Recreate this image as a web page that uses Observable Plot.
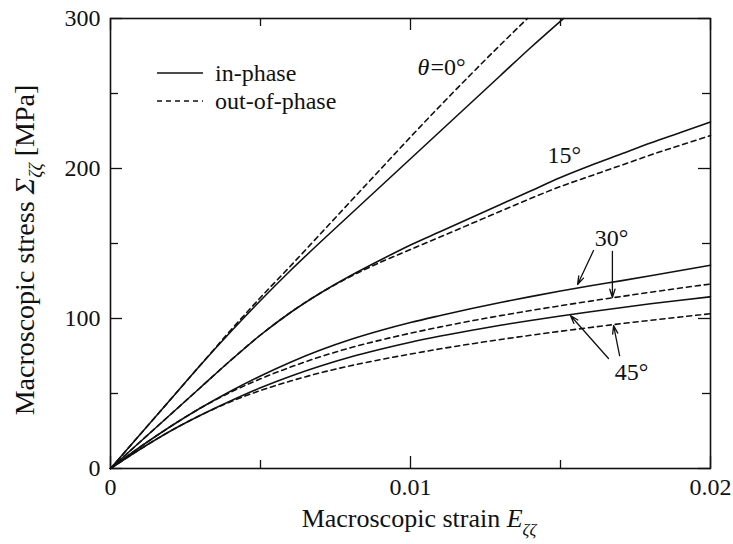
<!DOCTYPE html>
<html><head><meta charset="utf-8">
<script src="https://cdn.jsdelivr.net/npm/d3@7"></script>
<script src="https://cdn.jsdelivr.net/npm/@observablehq/plot@0.6"></script>
<style>body{margin:0;background:#fff} svg text{font-family:"Liberation Serif","DejaVu Serif",serif !important;}</style>
</head><body><div id="chart"></div>
<script>
// ---- data ----
const strain = [0,0.001,0.002,0.003,0.004,0.005,0.006,0.007,0.008,0.009,0.010,0.011,0.012,0.013,0.014,0.015,0.016,0.017,0.018,0.019,0.020];
const strain0In  = [0,0.001,0.002,0.003,0.004,0.005,0.006,0.007,0.008,0.009,0.010,0.011,0.012,0.013,0.014,0.0151];
const stress0In  = [0,23,46,69,91,112,132,151,169.5,188,206.5,225,243.5,262,280.5,300];
const strain0Out = [0,0.001,0.002,0.003,0.004,0.005,0.006,0.007,0.008,0.009,0.010,0.011,0.012,0.013,0.0139];
const stress0Out = [0,23,46,69,92,114,135,156.5,178,199.5,221,242,262.5,282.5,300];
const stress15In  = [0,18,36,54,72,89,104,117,128.5,139,149,158,167,176,185,194,202,209.5,217,224,231];
const stress15Out = [0,18,36,54,72,89,104,117,128,137.5,146,154.5,163,171.5,180,188,195,202,209,215.5,222];
const stress30In  = [0,14.5,28,40.3,51.5,61.7,70.9,79,86,92,97.3,102,106.5,110.7,114.6,118.3,121.8,125.1,128.5,132,135.5];
const stress30Out = [0,14.5,28,40.3,50.8,59.8,67.6,74.5,80.5,85.6,90.2,94.4,98.3,101.9,105.3,108.5,111.6,114.6,117.5,120.3,123];
const stress45In  = [0,13,25,35.5,45,53.8,61.5,68.3,74.3,79.5,84.2,88.3,92,95.5,98.7,101.7,104.5,107.2,109.8,112.2,114.5];
const stress45Out = [0,13,25,35.5,44.5,52,58.3,63.8,68.5,72.6,76.3,79.8,83,86,88.8,91.5,94,96.5,98.8,101,103.2];

const xTicks = [0, 0.01, 0.02];
const xMinor = [0.005, 0.015];
const yTicks = [0, 100, 200, 300];
const yMinor = [50, 150, 250];

const angleLabels = ["15°", "30°", "45°"];
const angleLabelX = [0.01513, 0.0167, 0.01737];
const angleLabelY = [208.5, 153.3, 64];

// arrows (label -> curve), data units
const arrowFromX = [0.0161, 0.01673, 0.0166, 0.01697];
const arrowFromY = [145.3, 144.7, 73.3, 75.3];
const arrowToX   = [0.01557, 0.01673, 0.01533, 0.01677];
const arrowToY   = [122.7, 114, 102, 95.3];

// ---- build tidy tables ----
const inPhase = [], outPhase = [];
function add(arr, xs, ys, key){ xs.forEach((x,i)=>arr.push({x, y: ys[i], key})); }
add(inPhase, strain0In, stress0In, "0");
add(outPhase, strain0Out, stress0Out, "0");
add(inPhase, strain, stress15In, "15");
add(outPhase, strain, stress15Out, "15");
add(inPhase, strain, stress30In, "30");
add(outPhase, strain, stress30Out, "30");
add(inPhase, strain, stress45In, "45");
add(outPhase, strain, stress45Out, "45");
const labels = angleLabels.map((t,i)=>({t, x: angleLabelX[i], y: angleLabelY[i]}));
const arrows = arrowFromX.map((_,i)=>({x1: arrowFromX[i], y1: arrowFromY[i], x2: arrowToX[i], y2: arrowToY[i]}));

const W = 733, H = 544, mL = 110, mR = 23, mT = 18, mB = 76;
const iW = W - mL - mR, iH = H - mT - mB;
const ink = "#111";
const majorLen = 12, minorLen = 8;
const font = "Liberation Serif, DejaVu Serif, serif";

const plot = Plot.plot({
  width: W, height: H,
  marginLeft: mL, marginRight: mR, marginTop: mT, marginBottom: mB,
  style: {fontFamily: font, fontSize: "24px", background: "#fff", color: ink},
  x: {domain: [0, 0.02]},
  y: {domain: [0, 300]},
  marks: [
    Plot.line(inPhase, {x: "x", y: "y", z: "key", stroke: ink, strokeWidth: 1.6, curve: "monotone-x"}),
    Plot.line(outPhase, {x: "x", y: "y", z: "key", stroke: ink, strokeWidth: 1.6, strokeDasharray: "5,4", curve: "monotone-x"}),
    Plot.ruleX(xTicks, {stroke: ink, strokeWidth: 1.3, insetTop: iH - majorLen}),
    Plot.ruleX(xTicks, {stroke: ink, strokeWidth: 1.3, insetBottom: iH - majorLen}),
    Plot.ruleX(xMinor, {stroke: ink, strokeWidth: 1.3, insetTop: iH - minorLen}),
    Plot.ruleX(xMinor, {stroke: ink, strokeWidth: 1.3, insetBottom: iH - minorLen}),
    Plot.ruleY(yTicks, {stroke: ink, strokeWidth: 1.3, insetRight: iW - majorLen}),
    Plot.ruleY(yTicks, {stroke: ink, strokeWidth: 1.3, insetLeft: iW - majorLen}),
    Plot.ruleY(yMinor, {stroke: ink, strokeWidth: 1.3, insetRight: iW - minorLen}),
    Plot.ruleY(yMinor, {stroke: ink, strokeWidth: 1.3, insetLeft: iW - minorLen}),
    Plot.frame({stroke: ink, strokeWidth: 1.6}),
    Plot.axisX({ticks: xTicks, tickSize: 0, tickPadding: 9, tickFormat: d => d === 0 ? "0" : String(d), label: null, fill: ink}),
    Plot.axisY({ticks: yTicks, tickSize: 0, tickPadding: 10, tickFormat: d => String(d), label: null, fill: ink}),
    Plot.text(labels, {x: "x", y: "y", text: "t", fill: ink}),
    Plot.text([{x: 0.01063, y: 267.3}], {x: "x", y: "y", text: () => "θ", textAnchor: "end", fontStyle: "italic", fill: ink}),
    Plot.text([{x: 0.01063, y: 267.3}], {x: "x", y: "y", text: () => "=0°", textAnchor: "start", dx: 1, fill: ink}),
    Plot.arrow(arrows, {x1: "x1", y1: "y1", x2: "x2", y2: "y2", stroke: ink, strokeWidth: 1.3, headLength: 10, headAngle: 35})
  ]
});

const svg = d3.select(plot);
// x title
const xt = svg.append("text").attr("x", 419).attr("y", 527).attr("text-anchor", "middle")
  .attr("font-family", font).attr("font-size", 26).attr("fill", ink);
xt.append("tspan").text("Macroscopic strain ");
xt.append("tspan").attr("font-style", "italic").text("E");
xt.append("tspan").attr("font-style", "italic").attr("font-size", 17).attr("dy", 8).text("ζζ");
// y title
const yt = svg.append("text").attr("transform", "translate(34,250) rotate(-90)").attr("text-anchor", "middle")
  .attr("font-family", font).attr("font-size", 28).attr("fill", ink);
yt.append("tspan").text("Macroscopic stress ");
yt.append("tspan").attr("font-style", "italic").text("Σ");
yt.append("tspan").attr("font-style", "italic").attr("font-size", 18).attr("dy", 8).text("ζζ");
yt.append("tspan").attr("dy", -8).text(" [MPa]");
// legend
const lg = svg.append("g").attr("font-family", font).attr("font-size", 24).attr("fill", ink).attr("text-anchor", "start");
lg.append("line").attr("x1", 157).attr("x2", 203).attr("y1", 73).attr("y2", 73).attr("stroke", ink).attr("stroke-width", 1.6);
lg.append("line").attr("x1", 157).attr("x2", 203).attr("y1", 101).attr("y2", 101).attr("stroke", ink).attr("stroke-width", 1.6).attr("stroke-dasharray", "5,4");
lg.append("text").attr("x", 215).attr("y", 73).attr("dy", "0.32em").text("in-phase");
lg.append("text").attr("x", 215).attr("y", 101).attr("dy", "0.32em").text("out-of-phase");

document.getElementById("chart").appendChild(plot);
</script>
</body></html>
